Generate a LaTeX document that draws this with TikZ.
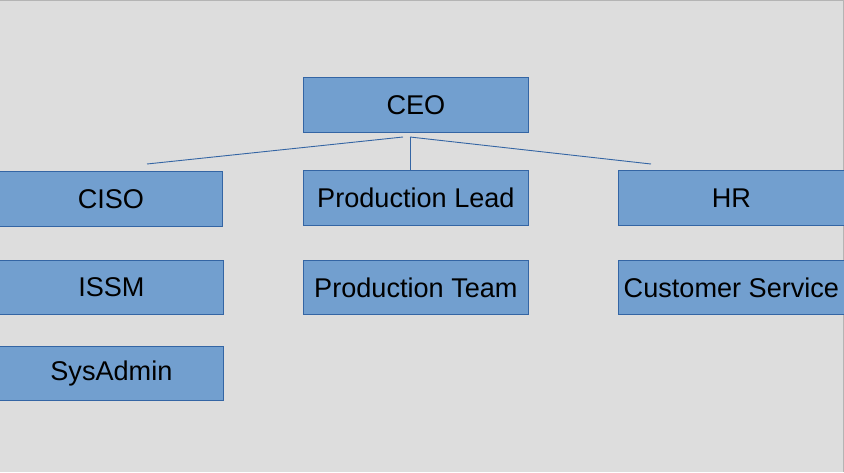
\documentclass[tikz,border=0pt]{standalone}
\usepackage{fontspec}
\setmainfont{Liberation Sans}
\definecolor{bg}{HTML}{DDDDDD}
\definecolor{boxfill}{HTML}{729FCF}
\definecolor{boxline}{HTML}{3465A4}
\definecolor{frame}{HTML}{B4B4B4}
\begin{document}
\begin{tikzpicture}[x=1pt,y=-1pt,
  orgbox/.style={draw=boxline, fill=boxfill, line width=0.8pt, minimum width=225pt, minimum height=55pt, inner sep=0pt, font=\fontsize{27.1}{31}\selectfont, anchor=north west},
  link/.style={draw=boxline, line width=0.9pt}]
\useasboundingbox (0,0) rectangle (844,472);
\fill[bg] (0,0) rectangle (844,472);
\draw[frame, line width=1.2pt] (0,0.6) -- (843.4,0.6) -- (843.4,472);
\node[orgbox] (ceo) at (303,77) {CEO};
\node[orgbox, minimum width=223pt] (ciso) at (-1,171) {CISO};
\node[orgbox, minimum width=224pt, minimum height=54pt] (issm) at (-1,260) {ISSM};
\node[orgbox, minimum width=224pt, minimum height=54pt] (sysadmin) at (-1,346) {SysAdmin};
\node[orgbox] (plead) at (303,170) {Production Lead};
\node[orgbox, minimum height=54pt] (pteam) at (303,260) {Production Team};
\node[orgbox, minimum width=226pt] (hr) at (618,170) {HR};
\node[orgbox, minimum width=226pt, minimum height=54pt] (cs) at (618,260) {Customer Service};
\coordinate (jl) at (403,137);
\coordinate (jr) at (410,137);
\coordinate (cl) at (147,164);
\coordinate (cr) at (651,164);
\draw[link] (jl) -- (cl);
\draw[link] (jr) -- (cr);
\draw[link] (jr) -- (jr |- plead.north);
\end{tikzpicture}
\end{document}
